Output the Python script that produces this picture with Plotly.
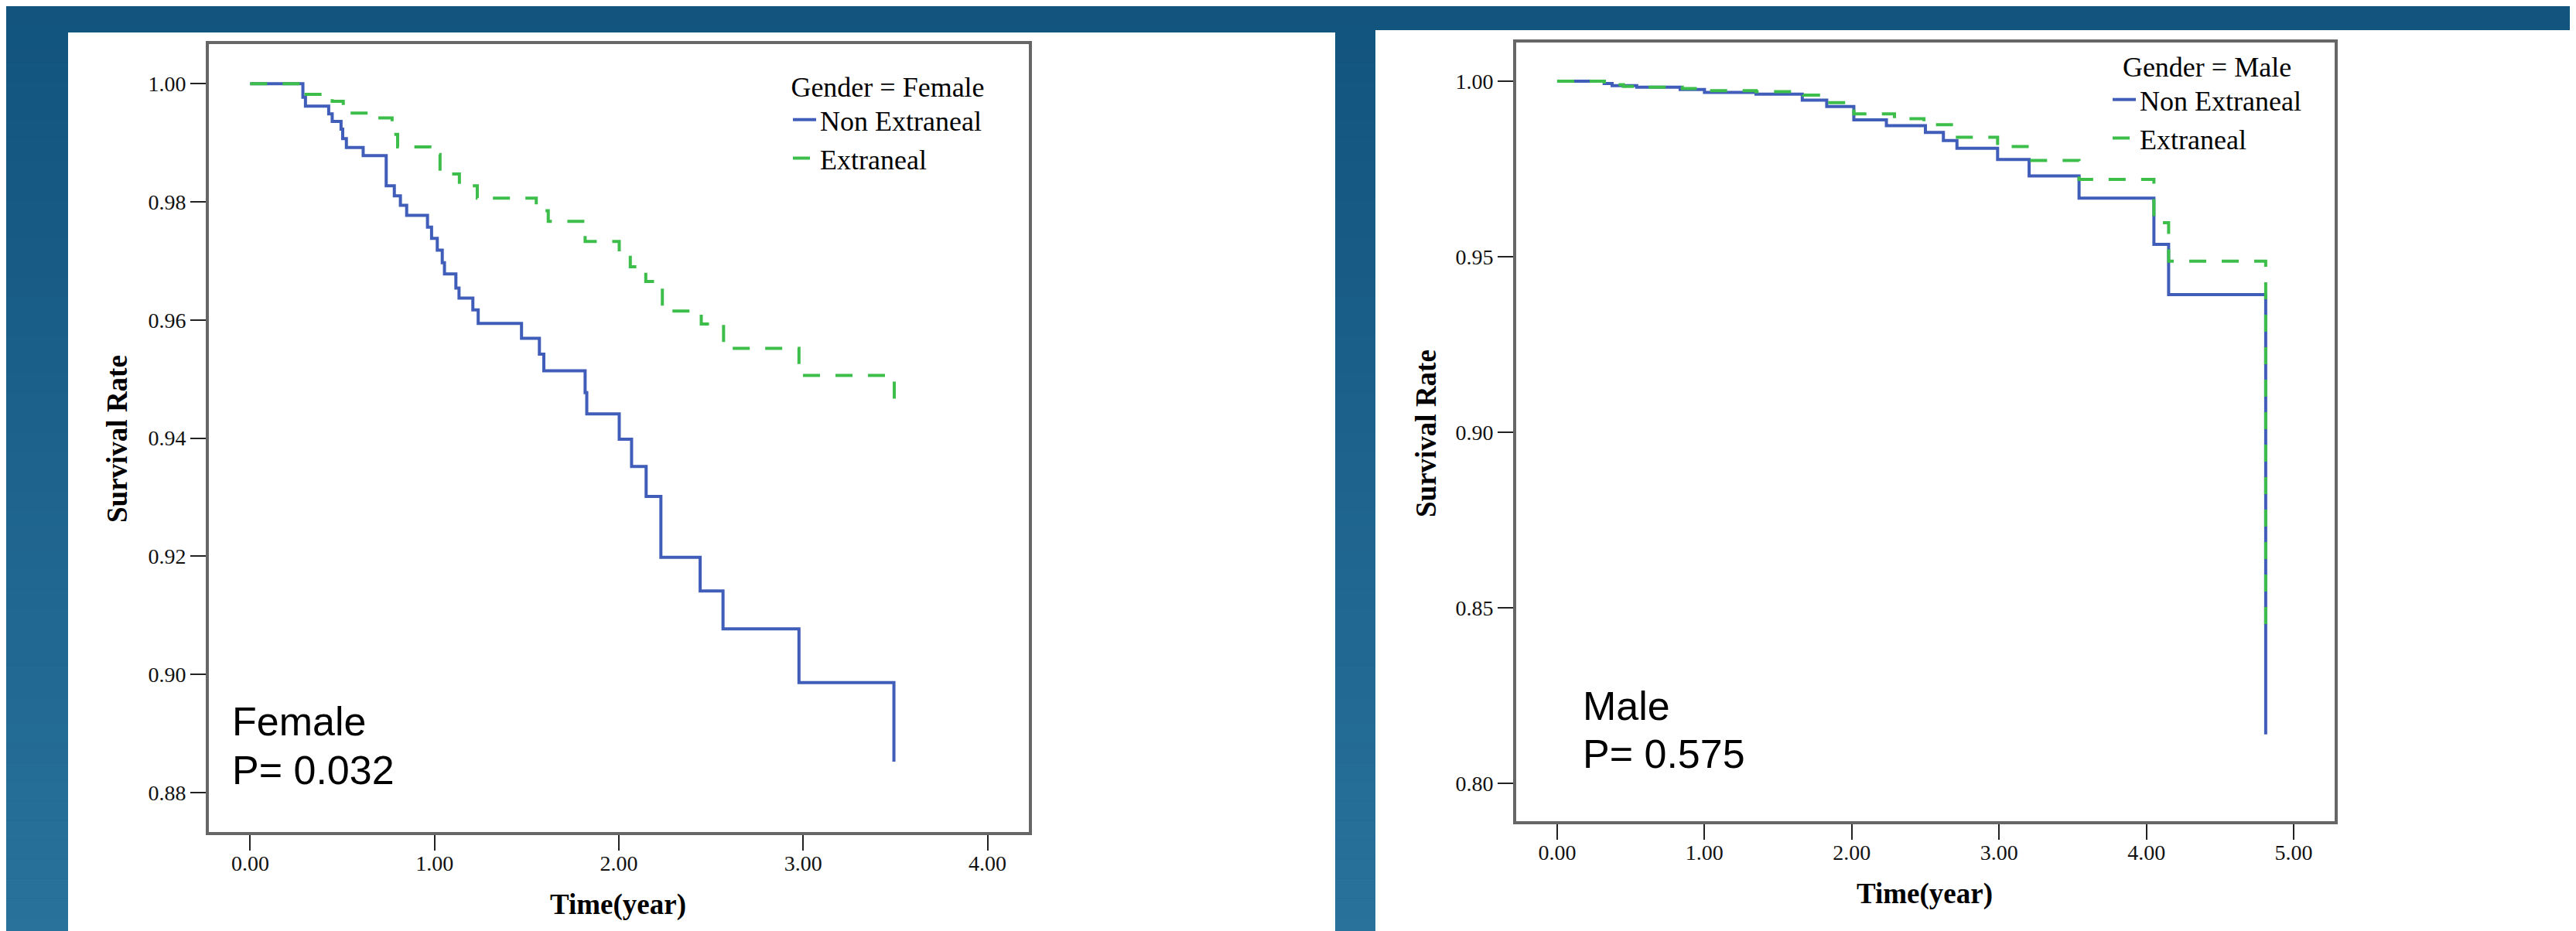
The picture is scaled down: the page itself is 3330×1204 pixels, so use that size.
import plotly.graph_objects as go

W, H = 3330, 1204

# ---------------- data ----------------
female_non_t = [0, 0.286, 0.300, 0.426, 0.445, 0.493, 0.502, 0.522, 0.613, 0.738, 0.782, 0.815,
                0.849, 0.962, 0.984, 1.015, 1.042, 1.054, 1.116, 1.133, 1.208, 1.237, 1.472,
                1.569, 1.593, 1.817, 1.826, 2.002, 2.069, 2.148, 2.228, 2.441, 2.565, 2.977, 3.492]
female_non_s = [1.0, 0.9977, 0.9962, 0.9949, 0.9936, 0.9923, 0.9907, 0.9892, 0.9878, 0.9827,
                0.9810, 0.9794, 0.9777, 0.9757, 0.9738, 0.9718, 0.9697, 0.9678, 0.9654, 0.9637,
                0.9617, 0.9594, 0.9569, 0.9542, 0.9514, 0.9477, 0.9441, 0.9398, 0.9352, 0.9301,
                0.9198, 0.9141, 0.9077, 0.8986, 0.8852]

female_ext_t = [0, 0.286, 0.445, 0.505, 0.642, 0.770, 0.800, 0.975, 1.030, 1.135, 1.232, 1.552,
                1.617, 1.817, 2.002, 2.062, 2.146, 2.236, 2.447, 2.568, 2.977, 3.494]
female_ext_s = [1.0, 0.9982, 0.9970, 0.9950, 0.9942, 0.9914, 0.9893, 0.9880, 0.9847, 0.9827,
                0.9806, 0.9785, 0.9767, 0.9733, 0.9714, 0.9690, 0.9665, 0.9615, 0.9593, 0.9552,
                0.9506, 0.9441]

male_non_t = [0, 0.319, 0.373, 0.540, 0.835, 1.000, 1.350, 1.664, 1.830, 2.014, 2.235, 2.500,
              2.622, 2.714, 2.990, 3.204, 3.543, 4.051, 4.151, 4.810]
male_non_s = [1.0, 0.9993, 0.9987, 0.9983, 0.9976, 0.9968, 0.9963, 0.9946, 0.9928, 0.9890,
              0.9873, 0.9854, 0.9831, 0.9809, 0.9777, 0.9730, 0.9667, 0.9535, 0.9392, 0.8139]

male_ext_t = [0, 0.320, 0.450, 0.600, 0.850, 1.000, 1.350, 1.670, 1.800, 1.850, 2.014, 2.290,
              2.490, 2.706, 2.990, 3.204, 3.543, 4.051, 4.151, 4.810]
male_ext_s = [1.0, 0.9990, 0.9985, 0.9983, 0.9979, 0.9973, 0.9970, 0.9960, 0.9950, 0.9939,
              0.9907, 0.9893, 0.9876, 0.9840, 0.9814, 0.9774, 0.9720, 0.9597, 0.9487, 0.8415]

female_xticks = [0, 1, 2, 3, 4]
female_yticks = [0.88, 0.90, 0.92, 0.94, 0.96, 0.98, 1.00]
male_xticks = [0, 1, 2, 3, 4, 5]
male_yticks = [0.80, 0.85, 0.90, 0.95, 1.00]

series_names = ["Non Extraneal", "Extraneal"]
legend_titles = ["Gender = Female", "Gender = Male"]
panel_labels = [("Female", "P= 0.032"), ("Male", "P= 0.575")]
x_title = "Time(year)"
y_title = "Survival Rate"

# ---------------- styling ----------------
BLUE = "#3F5DB9"
GREEN = "#3DBE4B"
FRAME = "#666666"
SERIF = "Liberation Serif, Times New Roman, serif"
SANS = "Liberation Sans, Arial, sans-serif"


def px_x(x):
    return x / W


def px_y(y):
    return 1 - y / H


fig = go.Figure()

fig.add_trace(go.Scatter(x=female_non_t, y=female_non_s, mode="lines", name=series_names[0],
                         line=dict(color=BLUE, width=4, shape="hv"), xaxis="x", yaxis="y",
                         legend="legend"))
fig.add_trace(go.Scatter(x=female_ext_t, y=female_ext_s, mode="lines", name=series_names[1],
                         line=dict(color=GREEN, width=4, shape="hv", dash="22px,20px"),
                         xaxis="x", yaxis="y", legend="legend"))
fig.add_trace(go.Scatter(x=male_non_t, y=male_non_s, mode="lines", name=series_names[0],
                         line=dict(color=BLUE, width=4, shape="hv"), xaxis="x2", yaxis="y2",
                         legend="legend2"))
fig.add_trace(go.Scatter(x=male_ext_t, y=male_ext_s, mode="lines", name=series_names[1],
                         line=dict(color=GREEN, width=4, shape="hv", dash="22px,20px"),
                         xaxis="x2", yaxis="y2", legend="legend2"))

axis_common = dict(showline=True, linecolor=FRAME, linewidth=4, mirror=True, showgrid=False,
                   zeroline=False, ticks="outside", ticklen=20, tickwidth=2, tickcolor="#222",
                   tickfont=dict(family=SERIF, size=28, color="#111"), tickformat=".2f",
                   fixedrange=True)
xaxis_extra = dict(ticklabelstandoff=-8)

legend_font = dict(family=SERIF, size=36, color="black")

fig.update_layout(
    width=W, height=H,
    margin=dict(l=0, r=0, t=0, b=0),
    paper_bgcolor="#1d6592",
    plot_bgcolor="white",
    xaxis=dict(domain=[px_x(262), px_x(1322)], range=[-0.224, 4.224], tickvals=female_xticks,
               anchor="y", **axis_common, **xaxis_extra),
    yaxis=dict(domain=[px_y(1068), px_y(49)], range=[0.8733, 1.0067], tickvals=female_yticks,
               anchor="x", **axis_common),
    xaxis2=dict(domain=[px_x(1952), px_x(3010)], range=[-0.278, 5.278], tickvals=male_xticks,
                anchor="y2", **axis_common, **xaxis_extra),
    yaxis2=dict(domain=[px_y(1054), px_y(47)], range=[0.7892, 1.011], tickvals=male_yticks,
                anchor="x2", **axis_common),
    legend=dict(x=px_x(1012), y=px_y(70), xanchor="left", yanchor="top",
                bgcolor="rgba(0,0,0,0)", borderwidth=0, font=legend_font,
                title=dict(text=legend_titles[0], font=legend_font, side="top center"),
                tracegroupgap=0),
    legend2=dict(x=px_x(2718), y=px_y(44), xanchor="left", yanchor="top",
                 bgcolor="rgba(0,0,0,0)", borderwidth=0, font=legend_font,
                 title=dict(text=legend_titles[1], font=legend_font, side="top center"),
                 tracegroupgap=0),
    showlegend=True,
)

# ---------------- background: gradient + white panels ----------------
shapes = []
top_c = (18, 84, 126)
bot_c = (40, 114, 156)
n = 48
for i in range(n):
    f = i / (n - 1)
    c = tuple(round(top_c[k] + (bot_c[k] - top_c[k]) * f) for k in range(3))
    shapes.append(dict(type="rect", xref="paper", yref="paper", x0=0, x1=1,
                       y0=1 - (i + 1) / n, y1=1 - i / n, line=dict(width=0),
                       fillcolor="rgb(%d,%d,%d)" % c, layer="below"))
shapes.append(dict(type="rect", xref="paper", yref="paper", x0=px_x(80), x1=px_x(1718),
                   y0=0, y1=px_y(34), line=dict(width=0), fillcolor="white", layer="below"))
shapes.append(dict(type="rect", xref="paper", yref="paper", x0=px_x(1770), x1=1,
                   y0=px_y(1200), y1=px_y(31), line=dict(width=0), fillcolor="white", layer="below"))
fig.update_layout(shapes=shapes)

# ---------------- annotations ----------------
ann = []
title_font = dict(family=SERIF, size=37, color="black")
for txt, xx, yy, ang in [(y_title, 144, 560, -90), (x_title, 791, 1162, 0),
                         (y_title, 1835, 552, -90), (x_title, 2480, 1148, 0)]:
    ann.append(dict(text="<b>%s</b>" % txt, x=px_x(xx), y=px_y(yy), xref="paper", yref="paper",
                    xanchor="center", yanchor="middle", showarrow=False, textangle=ang,
                    font=title_font))

big_font = dict(family=SANS, size=52, color="black")
for (lab, pv), (xl, y1, y2) in zip(panel_labels, [(290, 925, 988), (2036, 905, 967)]):
    ann.append(dict(text=lab, x=px_x(xl), y=px_y(y1), xref="paper", yref="paper",
                    xanchor="left", yanchor="middle", showarrow=False, font=big_font))
    ann.append(dict(text=pv, x=px_x(xl), y=px_y(y2), xref="paper", yref="paper",
                    xanchor="left", yanchor="middle", showarrow=False, font=big_font))
fig.update_layout(annotations=ann)

fig.write_html("out.html")
